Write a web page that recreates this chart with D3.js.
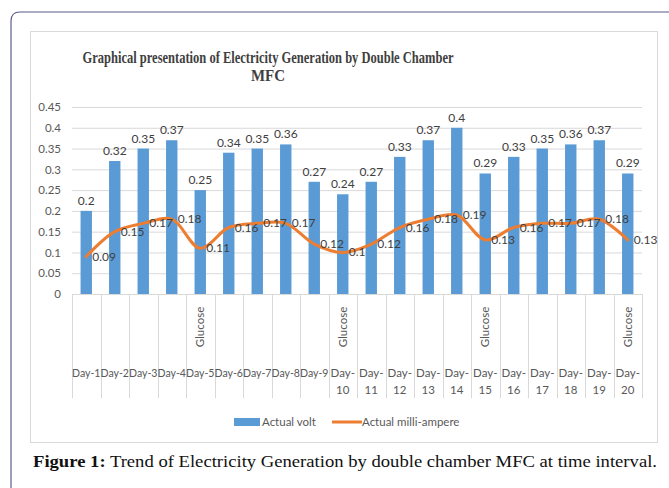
<!DOCTYPE html>
<html>
<head>
<meta charset="utf-8">
<script src="https://cdn.jsdelivr.net/npm/d3@7"></script>
<style>
  body { margin: 0; background: #fff; }
  svg { display: block; }
</style>
</head>
<body>
<svg id="chart" width="669" height="488"></svg>
<script>
// chart data
var days = ["Day-1", "Day-2", "Day-3", "Day-4", "Day-5", "Day-6", "Day-7", "Day-8", "Day-9", "Day-10",
            "Day-11", "Day-12", "Day-13", "Day-14", "Day-15", "Day-16", "Day-17", "Day-18", "Day-19", "Day-20"];
var feedLabels = ["", "", "", "", "Glucose", "", "", "", "", "Glucose",
                  "", "", "", "", "Glucose", "", "", "", "", "Glucose"];
var voltValues = [0.2, 0.32, 0.35, 0.37, 0.25, 0.34, 0.35, 0.36, 0.27, 0.24,
                  0.27, 0.33, 0.37, 0.4, 0.29, 0.33, 0.35, 0.36, 0.37, 0.29];
var ampValues = [0.09, 0.15, 0.17, 0.18, 0.11, 0.16, 0.17, 0.17, 0.12, 0.1,
                 0.12, 0.16, 0.18, 0.19, 0.13, 0.16, 0.17, 0.17, 0.18, 0.13];
var yTicks = [0, 0.05, 0.1, 0.15, 0.2, 0.25, 0.3, 0.35, 0.4, 0.45];
var seriesNames = ["Actual volt", "Actual milli-ampere"];

var BLUE = "#5b9bd5", ORANGE = "#ed7d31", GRID = "#d9d9d9";
var sans = "Lato, 'Open Sans', sans-serif";
var serif = "'Liberation Serif', 'DejaVu Serif', serif";

var svg = d3.select("#chart");

// outer frame of the figure (only left and top edges show)
svg.append("path")
	.attr("d", "M11,488 L11,21 Q11,12 20,12 L669,12")
	.attr("fill", "none")
	.attr("stroke", "#5b5b8f")
	.attr("stroke-width", 1.2);

// chart area box
svg.append("rect")
	.attr("x", 30.5).attr("y", 31.5)
	.attr("width", 627).attr("height", 411)
	.attr("fill", "#fff")
	.attr("stroke", GRID);

// title
var title = svg.append("text")
	.attr("text-anchor", "middle")
	.attr("font-family", serif)
	.attr("font-weight", "bold")
	.attr("font-size", 17)
	.attr("fill", "#404040");
title.append("tspan").attr("x", 268).attr("y", 63)
	.attr("textLength", 371).attr("lengthAdjust", "spacingAndGlyphs")
	.text("Graphical presentation of Electricity Generation by Double Chamber");
title.append("tspan").attr("x", 268).attr("y", 81)
	.attr("textLength", 34).attr("lengthAdjust", "spacingAndGlyphs")
	.text("MFC");

var x = d3.scaleBand().domain(days).range([72, 642]).padding(0);
var y = d3.scaleLinear().domain([0, 0.45]).range([294, 107]);

// gridlines + y axis labels
var yAxis = svg.append("g")
	.attr("transform", "translate(72,0)")
	.call(d3.axisLeft(y).tickValues(yTicks).tickSize(-570).tickFormat(function(d) { return String(+d.toFixed(2)); }));
yAxis.select(".domain").remove();
yAxis.selectAll(".tick line").attr("stroke", GRID);
yAxis.selectAll(".tick text")
	.attr("x", -11)
	.attr("font-family", sans)
	.attr("font-size", 11.5)
	.attr("fill", "#595959");

// category separators (multi-level axis)
var bounds = days.map(function(d) { return x(d); }).concat([x.range()[1]]);
svg.append("g").selectAll("line")
	.data(bounds)
	.enter().append("line")
		.attr("x1", function(d) { return Math.round(d) + 0.5; })
		.attr("x2", function(d) { return Math.round(d) + 0.5; })
		.attr("y1", 294).attr("y2", 398)
		.attr("stroke", GRID);
svg.append("line")
	.attr("x1", 72).attr("x2", 642)
	.attr("y1", 294.5).attr("y2", 294.5)
	.attr("stroke", GRID);

// bars
var bw = x.bandwidth() * 0.4;
svg.append("g").selectAll("rect")
	.data(voltValues)
	.enter().append("rect")
		.attr("x", function(d, i) { return x(days[i]) + (x.bandwidth() - bw) / 2; })
		.attr("y", function(d) { return y(d); })
		.attr("width", bw)
		.attr("height", function(d) { return y(0) - y(d); })
		.attr("fill", BLUE);

// bar labels
svg.append("g").selectAll("text")
	.data(voltValues)
	.enter().append("text")
		.attr("x", function(d, i) { return x(days[i]) + x.bandwidth() / 2; })
		.attr("y", function(d) { return y(d) - 6; })
		.attr("text-anchor", "middle")
		.attr("font-family", sans)
		.attr("font-size", 12)
		.attr("fill", "#404040")
		.text(function(d) { return String(d); });

// smoothed line
var cx = function(d, i) { return x(days[i]) + x.bandwidth() / 2; };
var line = d3.line()
	.x(cx)
	.y(function(d) { return y(d); })
	.curve(d3.curveCatmullRom.alpha(0.5));
svg.append("path")
	.datum(ampValues)
	.attr("d", line)
	.attr("fill", "none")
	.attr("stroke", ORANGE)
	.attr("stroke-width", 3)
	.attr("stroke-linecap", "round");

// line labels, to the right of each point
svg.append("g").selectAll("text")
	.data(ampValues)
	.enter().append("text")
		.attr("x", function(d, i) { return cx(d, i) + 6; })
		.attr("y", function(d) { return y(d) + 4; })
		.attr("font-family", sans)
		.attr("font-size", 12)
		.attr("fill", "#404040")
		.text(function(d) { return String(d); });

// category labels: Glucose (rotated) and day names
svg.append("g").selectAll("text")
	.data(feedLabels.map(function(t, i) { return {t: t, i: i}; }).filter(function(d) { return d.t; }))
	.enter().append("text")
		.attr("transform", function(d) { return "translate(" + (x(days[d.i]) + x.bandwidth() / 2 + 4) + ",327)rotate(-90)"; })
		.attr("text-anchor", "middle")
		.attr("font-family", sans)
		.attr("font-size", 11.5)
		.attr("fill", "#595959")
		.text(function(d) { return d.t; });

var dayText = svg.append("g").selectAll("text")
	.data(days)
	.enter().append("text")
		.attr("text-anchor", "middle")
		.attr("font-family", sans)
		.attr("font-size", 11.5)
		.attr("fill", "#595959");
dayText.each(function(d) {
	var t = d3.select(this);
	var mid = x(d) + x.bandwidth() / 2;
	var parts = d.split("-");
	if (parts[1].length > 1) {
		t.append("tspan").attr("x", mid).attr("y", 377).text(parts[0] + "-");
		t.append("tspan").attr("x", mid).attr("y", 394).text(parts[1]);
	} else {
		t.append("tspan").attr("x", mid).attr("y", 377)
			.attr("textLength", x.bandwidth()).attr("lengthAdjust", "spacingAndGlyphs")
			.text(d);
	}
});

// legend
var legend = svg.append("g").attr("font-family", sans).attr("font-size", 11.5).attr("fill", "#595959");
legend.append("rect").attr("x", 234).attr("y", 418).attr("width", 26).attr("height", 8).attr("fill", BLUE);
legend.append("text").attr("x", 262).attr("y", 426).text(seriesNames[0]);
legend.append("line").attr("x1", 332).attr("x2", 362).attr("y1", 422).attr("y2", 422)
	.attr("stroke", ORANGE).attr("stroke-width", 3);
legend.append("text").attr("x", 362).attr("y", 426).text(seriesNames[1]);

// figure caption
var cap = svg.append("text")
	.attr("x", 33).attr("y", 467)
	.attr("font-family", serif)
	.attr("font-size", 17)
	.attr("fill", "#111")
	.attr("textLength", 624).attr("lengthAdjust", "spacingAndGlyphs");
cap.append("tspan").attr("font-weight", "bold").text("Figure 1:");
cap.append("tspan").text(" Trend of Electricity Generation by double chamber MFC at time interval.");
</script>
</body>
</html>
